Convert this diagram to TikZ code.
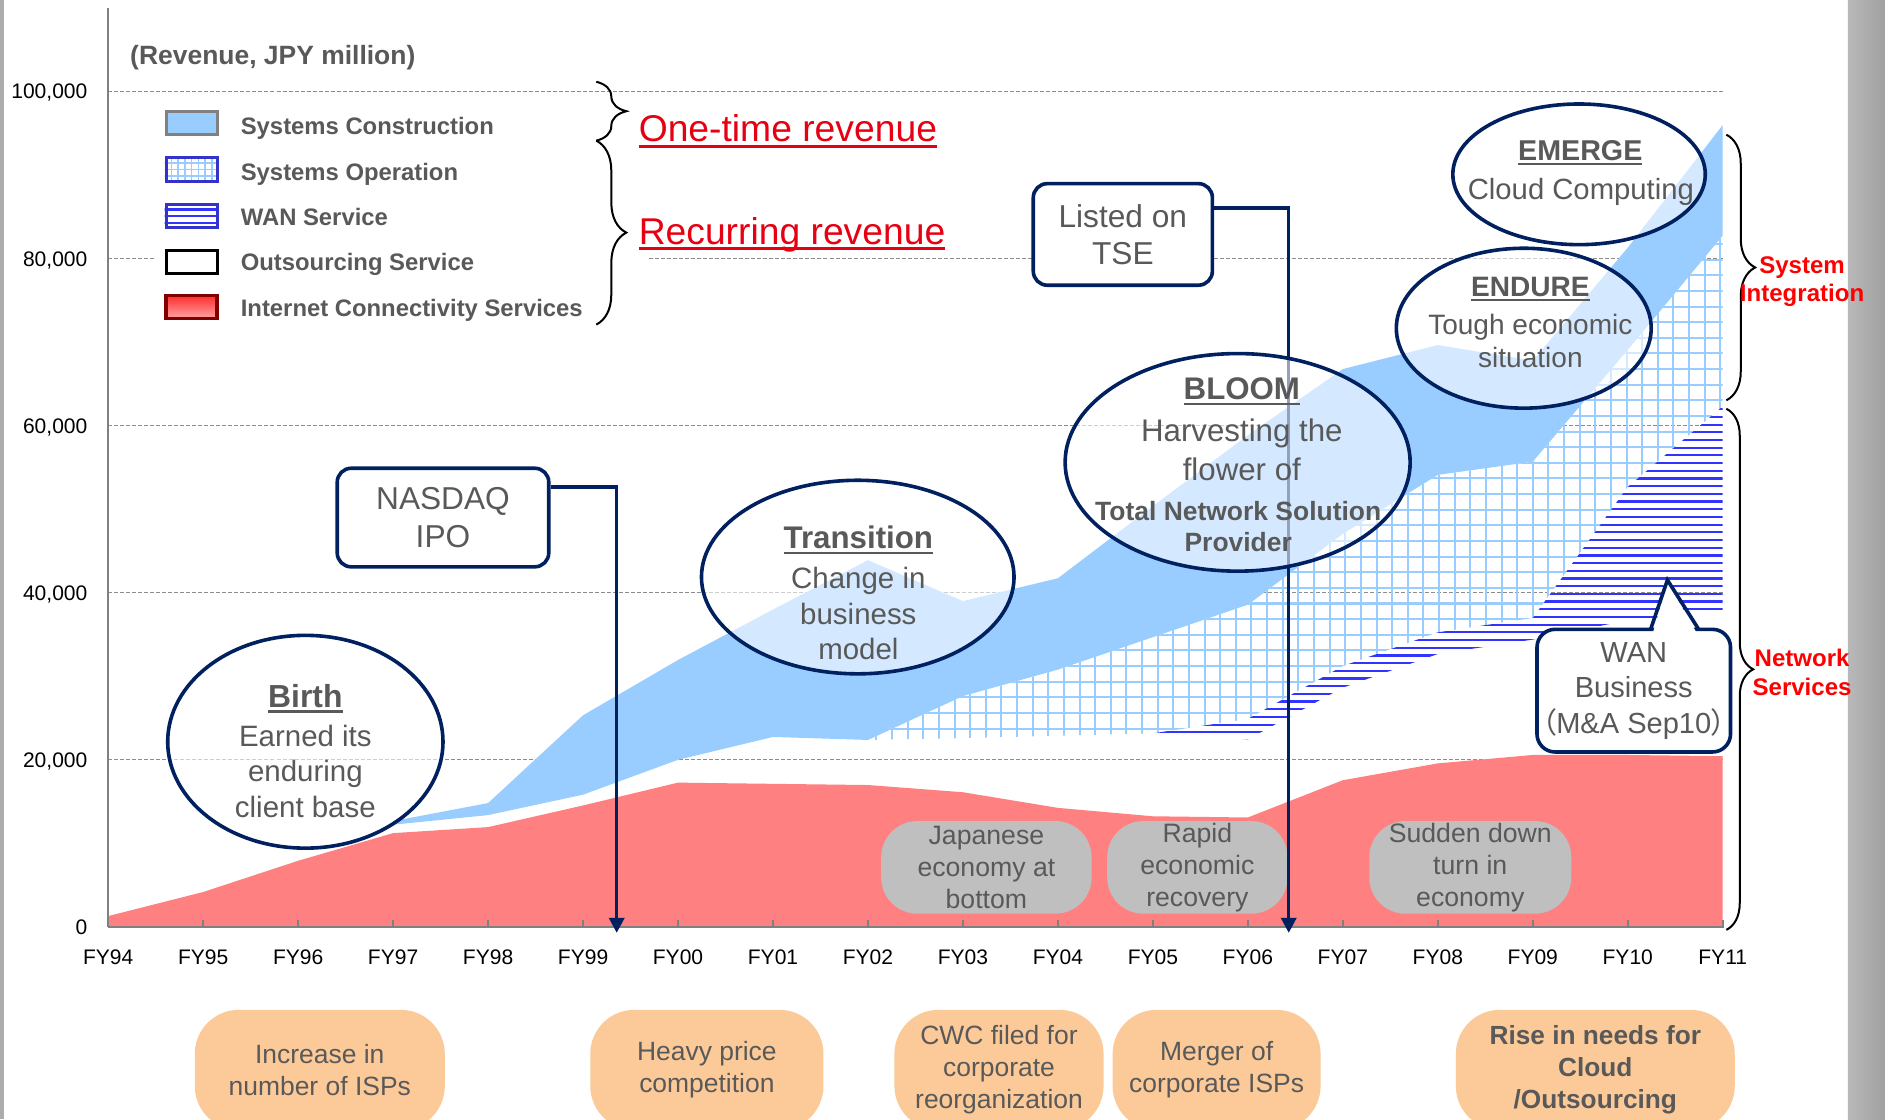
\documentclass[tikz,border=0pt]{standalone}
\usepackage{fontspec}
\setmainfont{Liberation Sans}
\newfontfamily\cjkfont[RawFeature=+palt]{Noto Sans CJK JP}
\usetikzlibrary{shapes.geometric,arrows.meta,decorations.pathreplacing,calc}

\definecolor{navy}{RGB}{0,32,96}
\definecolor{txtgray}{RGB}{89,89,89}
\definecolor{scblue}{RGB}{153,204,255}
\definecolor{wanblue}{RGB}{51,51,255}
\definecolor{legblue}{RGB}{51,51,204}
\definecolor{icred}{RGB}{255,128,128}
\definecolor{icdark}{RGB}{128,0,0}
\definecolor{ovalgray}{RGB}{191,191,191}
\definecolor{ovalorange}{RGB}{252,202,152}
\definecolor{labelred}{RGB}{230,0,18}
\definecolor{gridgray}{RGB}{140,140,140}
\definecolor{axisgray}{RGB}{128,128,128}

\newcommand{\setfs}[2]{\fontsize{#1pt}{#2pt}\selectfont}
\newcommand{\ulx}[1]{\setbox0=\hbox{#1}\rlap{\rule[-0.16em]{\wd0}{0.07em}}\box0}

\begin{document}
\begin{tikzpicture}[x=0.6pt,y=-0.6pt,
  gridline/.style={gridgray, line width=0.6pt, dash pattern=on 2pt off 1pt},
  ticklab/.style={inner sep=0pt, font=\setfs{10.5}{12}},
  callout/.style={ellipse, draw=navy, line width=1.8pt, fill=white, fill opacity=0.58, inner sep=0pt},
  ttl/.style={anchor=base, inner sep=0pt, text=txtgray, font=\bfseries\setfs{15.6}{18}},
  body/.style={anchor=base, inner sep=0pt, text=txtgray, align=center},
  eventbox/.style={rectangle, rounded corners=7pt, draw=navy, line width=1.8pt, fill=white,
    text=txtgray, align=center, inner sep=0pt},
  econoval/.style={rectangle, rounded corners=18pt, fill=ovalgray, text=txtgray, align=center,
    inner sep=0pt, minimum height=46.2pt, font=\setfs{13.3}{15.9}},
  causeoval/.style={rectangle, rounded corners=22pt, fill=ovalorange, text=txtgray, align=center,
    inner sep=0pt, minimum height=60pt, font=\setfs{13.2}{16}},
  link/.style={navy, line width=1.7pt, -{Triangle[length=7.5pt,width=7.5pt]}},
  swatch/.style={rectangle, minimum width=25.5pt, minimum height=11.5pt, inner sep=0pt, line width=1.5pt},
  legtext/.style={anchor=base west, inner sep=0pt, text=txtgray, font=\bfseries\setfs{11.9}{14}},
  curly/.style={decorate, decoration={brace, amplitude=#1}, line width=1pt},
  sidelabel/.style={anchor=base, inner sep=0pt, align=center, text=red, font=\bfseries\setfs{12}{14.4}}
]
\useasboundingbox (0,0) rectangle (1568,931);
\clip (0,0) rectangle (1568,931);
\fill[white] (0,0) rectangle (1568,931);

% page edges
\fill[gray!65] (0,0) rectangle (3,931);
\shade[left color={rgb,255:red,185;green,185;blue,185}, right color={rgb,255:red,160;green,160;blue,160}]
  (1537,0) rectangle (1568,931);

% horizontal gridlines
\foreach \gy in {76,215,354,493,632} \draw[gridline] (90,\gy) -- (1433,\gy);

% Internet Connectivity Services
\fill[icred] (90,771) -- (90,762) -- (169,742) -- (248,716) -- (327,693) -- (406,688) -- (485,670)
  -- (564,651) -- (643,652) -- (722,653) -- (801,659) -- (880,672) -- (959,679) -- (1038,680)
  -- (1117,649) -- (1196,635) -- (1275,628) -- (1354,628) -- (1433,629) -- (1433,771) -- cycle;

% Systems Construction
\fill[scblue] (327,686) -- (406,678) -- (485,661) -- (564,632) -- (643,613) -- (722,615.5)
  -- (801,579) -- (880,557) -- (959,530) -- (1038,503) -- (1117,444) -- (1196,395) -- (1275,384)
  -- (1354,291) -- (1433,196) -- (1433,104) -- (1354,206) -- (1275,300) -- (1196,287) -- (1117,307)
  -- (1038,362) -- (959,421) -- (880,481) -- (801,500) -- (722,466) -- (643,507) -- (564,549)
  -- (485,595) -- (406,668) -- (327,683) -- cycle;

% Systems Operation (grid)
\begin{scope}
  \clip (722,615.5) -- (801,614) -- (880,612) -- (959,610) -- (1038,598) -- (1117,554) -- (1196,526)
    -- (1275,514) -- (1354,405) -- (1433,338) -- (1433,196) -- (1354,291) -- (1275,384) -- (1196,395)
    -- (1117,444) -- (1038,503) -- (959,530) -- (880,557) -- (801,579) -- cycle;
  \foreach \gx in {716,729,...,1440} \draw[scblue, line width=1pt] (\gx,180) -- (\gx,620);
  \foreach \gy in {190,203,...,620} \draw[scblue, line width=1pt] (700,\gy) -- (1440,\gy);
\end{scope}

% WAN Service (horizontal hatching)
\begin{scope}
  \clip (959,610) -- (1038,615) -- (1117,572) -- (1196,544) -- (1275,532) -- (1354,516) -- (1433,510)
    -- (1433,338) -- (1354,405) -- (1275,514) -- (1196,526) -- (1117,554) -- (1038,598) -- cycle;
  \foreach \wy in {334,340.4,...,620} \draw[wanblue, line width=1.1pt] (950,\wy) -- (1440,\wy);
\end{scope}

% axes
\draw[axisgray, line width=0.9pt] (90,7) -- (90,771);
\draw[axisgray, line width=1.2pt] (90,771) -- (1434,771);
\foreach \i in {1,...,17} \draw[axisgray, line width=0.8pt] ({90+79*\i},765) -- ({90+79*\i},771);

\node[ticklab, anchor=base east] (y100) at (73,82.3) {100,000};
\node[ticklab, anchor=base east] (y80) at (73,221.3) {80,000};
\node[ticklab, anchor=base east] (y60) at (73,360.3) {60,000};
\node[ticklab, anchor=base east] (y40) at (73,499.3) {40,000};
\node[ticklab, anchor=base east] (y20) at (73,638.3) {20,000};
\node[ticklab, anchor=base east] (y0) at (73,777.3) {0};
\foreach \i/\lab in {0/FY94,1/FY95,2/FY96,3/FY97,4/FY98,5/FY99,6/FY00,7/FY01,8/FY02,9/FY03,
  10/FY04,11/FY05,12/FY06,13/FY07,14/FY08,15/FY09,16/FY10,17/FY11}
  \node[ticklab, anchor=base] (fy\i) at ({90+79*\i},802.3) {\lab};

% economic conditions
\node[econoval, minimum width=105pt] (ecoBottom) at (820.5,721.5) {Japanese\\economy at\\bottom};
\node[econoval, minimum width=90pt] (ecoRecovery) at (996,721.5) {Rapid\\economic\\recovery};
\node[econoval, minimum width=100.8pt] (ecoDownturn) at (1223,721.5) {Sudden down\\turn in\\economy};

% listing events
\node[eventbox, minimum width=105.6pt, minimum height=49.2pt, font=\setfs{15.8}{19.2}] (nasdaq)
  at (368.5,430.5) {NASDAQ\\IPO};
\node[eventbox, minimum width=89.4pt, minimum height=50.7pt, font=\setfs{15.8}{18.6}] (tse)
  at (934,195) {Listed on\\TSE};
\coordinate (ipoEnd) at (513,776);
\coordinate (tseEnd) at (1072,776);
\draw[link] ($(nasdaq.north east)!0.2!(nasdaq.south east)$) -| (ipoEnd);
\draw[link] ($(tse.north east)!0.25!(tse.south east)$) -| (tseEnd);

% growth stages
\node[callout, minimum width=137.4pt, minimum height=106.2pt] (birth) at (254,617) {};
\node[callout, minimum width=156pt, minimum height=96.6pt] (transition) at (713.5,480) {};
\node[callout, minimum width=172.2pt, minimum height=108.6pt] (bloom) at (1029.5,384.6) {};
\node[callout, minimum width=126pt, minimum height=70.2pt] (emerge) at (1313.5,145) {};
\node[callout, minimum width=127.2pt, minimum height=79.8pt] (endure) at (1267.5,273) {};

% (multi-line texts are placed by the baseline of their last line)
\node[ttl, font=\bfseries\setfs{15.9}{18}] (birthT) at (254,588.5) {\ulx{Birth}};
\node[body, font=\setfs{14.7}{17.7}] (birthB) at (254,679.8) {Earned its\\enduring\\client base};
\node[ttl] (transT) at (714,456.5) {\ulx{Transition}};
\node[body, font=\setfs{14.7}{17.7}] (transB) at (714,548.8) {Change in\\business\\model};
\node[ttl] (bloomT) at (1033,332.5) {\ulx{BLOOM}};
\node[body, font=\setfs{15.6}{19.2}] (bloomB) at (1033,399.4) {Harvesting the\\flower of};
\node[body, font=\bfseries\setfs{13.2}{15.6}] (bloomC) at (1030,458.9) {Total Network Solution\\Provider};
\node[ttl, font=\bfseries\setfs{14}{16}] (endureT) at (1273,246.4) {\ulx{ENDURE}};
\node[body, font=\setfs{14}{16.2}] (endureB) at (1273,305.4) {Tough economic\\situation};
\node[ttl, font=\bfseries\setfs{14.3}{16}] (emergeT) at (1314.5,133.6) {\ulx{EMERGE}};
\node[body, font=\setfs{14.6}{17}] (emergeB) at (1315,165.7) {Cloud Computing};

% WAN acquisition callout
\node[eventbox, rounded corners=9pt, minimum width=96.6pt, minimum height=61.2pt, font=\setfs{14.5}{17.7}]
  (wanbox) at (1359,574.5) {WAN\\Business\\{\cjkfont （}M\&A Sep10{\cjkfont ）}};
\fill[white] (1375,526) -- (1387,484) -- (1411,526) -- cycle;
\draw[navy, line width=1.8pt] (1373,523.5) -- (1387,482.5) -- (1413,523.5);

% legend
\fill[white] (128,82) rectangle (538,270);
\node[legtext] (unit) at (108,54) {\setfs{13.2}{15}(Revenue, JPY million)};
\node[swatch, draw=axisgray, fill=scblue] (swCon) at (159.5,102.3) {};
\begin{scope}
  \clip (137,130) rectangle (182,152);
  \foreach \sx in {142.6,148.2,...,182} \draw[scblue, line width=0.8pt] (\sx,128) -- (\sx,154);
  \foreach \sy in {135.5,141,146.5} \draw[scblue, line width=0.8pt] (135,\sy) -- (184,\sy);
\end{scope}
\node[swatch, draw=legblue] (swOp) at (159.5,141) {};
\begin{scope}
  \clip (137,168) rectangle (182,191);
  \foreach \sy in {174.3,179.8,185.3} \draw[wanblue, line width=1.2pt] (135,\sy) -- (184,\sy);
\end{scope}
\node[swatch, draw=legblue] (swWan) at (159.5,179.5) {};
\node[swatch, draw=black] (swOut) at (159.5,218.3) {};
\node[swatch, draw=icdark, line width=1.8pt, top color={rgb,255:red,255;green,45;blue,45},
  bottom color={rgb,255:red,255;green,165;blue,165}] (swNet) at (159.5,255.5) {};
\node[legtext] (lgCon) at (200,112.2) {Systems Construction};
\node[legtext] (lgOp) at (200,150.2) {Systems Operation};
\node[legtext] (lgWan) at (200,187.2) {WAN Service};
\node[legtext] (lgOut) at (200,225.2) {Outsourcing Service};
\node[legtext] (lgNet) at (200,263.2) {Internet Connectivity Services};

\draw[curly=15pt] (496,68) -- (496,117);
\draw[curly=15pt] (496,117) -- (496,270);
\node[anchor=base west, inner sep=0pt, text=labelred, font=\setfs{18.6}{22}] (oneTime) at (531,117.8)
  {\ulx{One-time revenue}};
\node[anchor=base west, inner sep=0pt, text=labelred, font=\setfs{18.6}{22}] (recurring) at (531,203)
  {\ulx{Recurring revenue}};

% business segments
\draw[curly=14.4pt] (1436,112) -- (1436,333);
\draw[curly=13.4pt] (1436,340) -- (1436,773.5);
\node[sidelabel] (siLabel) at (1499,251.2) {System\\Integration};
\node[sidelabel] (nsLabel) at (1499,578.2) {Network\\Services};

% market drivers
\node[causeoval, minimum width=124.8pt] (drvIsp) at (266,890) {Increase in\\number of ISPs};
\node[causeoval, minimum width=116.4pt] (drvPrice) at (588,890) {Heavy price\\competition};
\node[causeoval, minimum width=104.4pt] (drvCwc) at (831,890) {CWC filed for\\corporate\\reorganization};
\node[causeoval, minimum width=103.8pt] (drvMerger) at (1012,890) {Merger of\\corporate ISPs};
\node[causeoval, minimum width=139.2pt, font=\bfseries\setfs{13.1}{16}] (drvCloud) at (1327,890)
  {Rise in needs for\\Cloud\\/Outsourcing};
\end{tikzpicture}
\end{document}
